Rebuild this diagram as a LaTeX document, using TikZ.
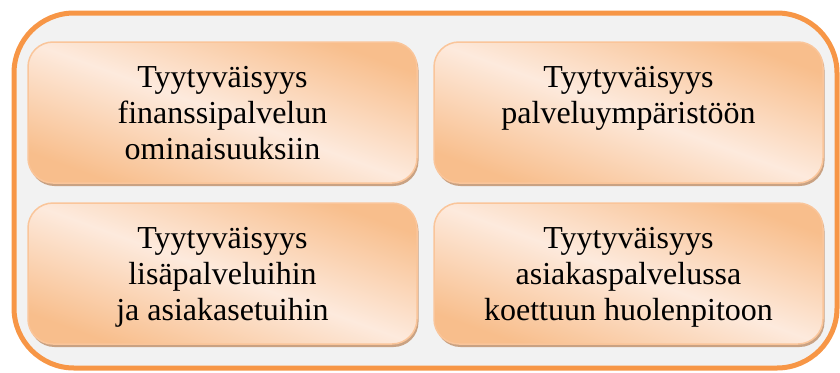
\documentclass[tikz,border=0pt]{standalone}
\usepackage{fontspec}
\setmainfont{Liberation Serif}
\usetikzlibrary{shadows,positioning}
\definecolor{frmorange}{HTML}{F79646}
\definecolor{frmgrey}{HTML}{F2F2F2}
\definecolor{boxdark}{HTML}{F8BE8C}
\definecolor{boxlight}{HTML}{FDEADD}
\definecolor{boxedge}{HTML}{FAC59A}
\definecolor{boxshadow}{HTML}{C9A283}
\begin{document}
\begin{tikzpicture}[x=1pt, y=-1pt,
        every node/.style={font=\fontsize{32}{36}\selectfont},
        frm/.style={
          draw=frmorange, line width=5pt,
          fill=frmgrey, rounded corners=60pt,
        },
        b/.style={
          draw=boxedge, line width=1.5pt,
          top color=boxdark, bottom color=boxdark, middle color=boxlight,
          shading angle=-20,
          rounded corners=25pt,
          minimum width=389pt, minimum height=141pt,
          drop shadow={shadow xshift=1.5pt, shadow yshift=-3pt,
            fill=boxshadow, opacity=1},
        },
        lbl/.style={align=center, inner sep=0pt, text=black},
      ]
      \useasboundingbox (0,0) rectangle (840,372);
      \draw[frm] (14,13) rectangle (837,368);

      \node[b] (b1) at (222.5,112.5) {};
      \node[b] (b2) at (628.5,112.5) {};
      \node[b] (b3) at (222.5,273.5) {};
      \node[b] (b4) at (628.5,273.5) {};

      \node[lbl, below=25pt of b1.north] (t1) {Tyytyväisyys\\finanssipalvelun\\ominaisuuksiin};
      \node[lbl, below=25pt of b2.north] (t2) {Tyytyväisyys\\palveluympäristöön};
      \node[lbl, below=25pt of b3.north] (t3) {Tyytyväisyys\\lisäpalveluihin\\ja asiakasetuihin};
      \node[lbl, below=25pt of b4.north] (t4) {Tyytyväisyys\\asiakaspalvelussa\\koettuun huolenpitoon};
    \end{tikzpicture}
\end{document}
